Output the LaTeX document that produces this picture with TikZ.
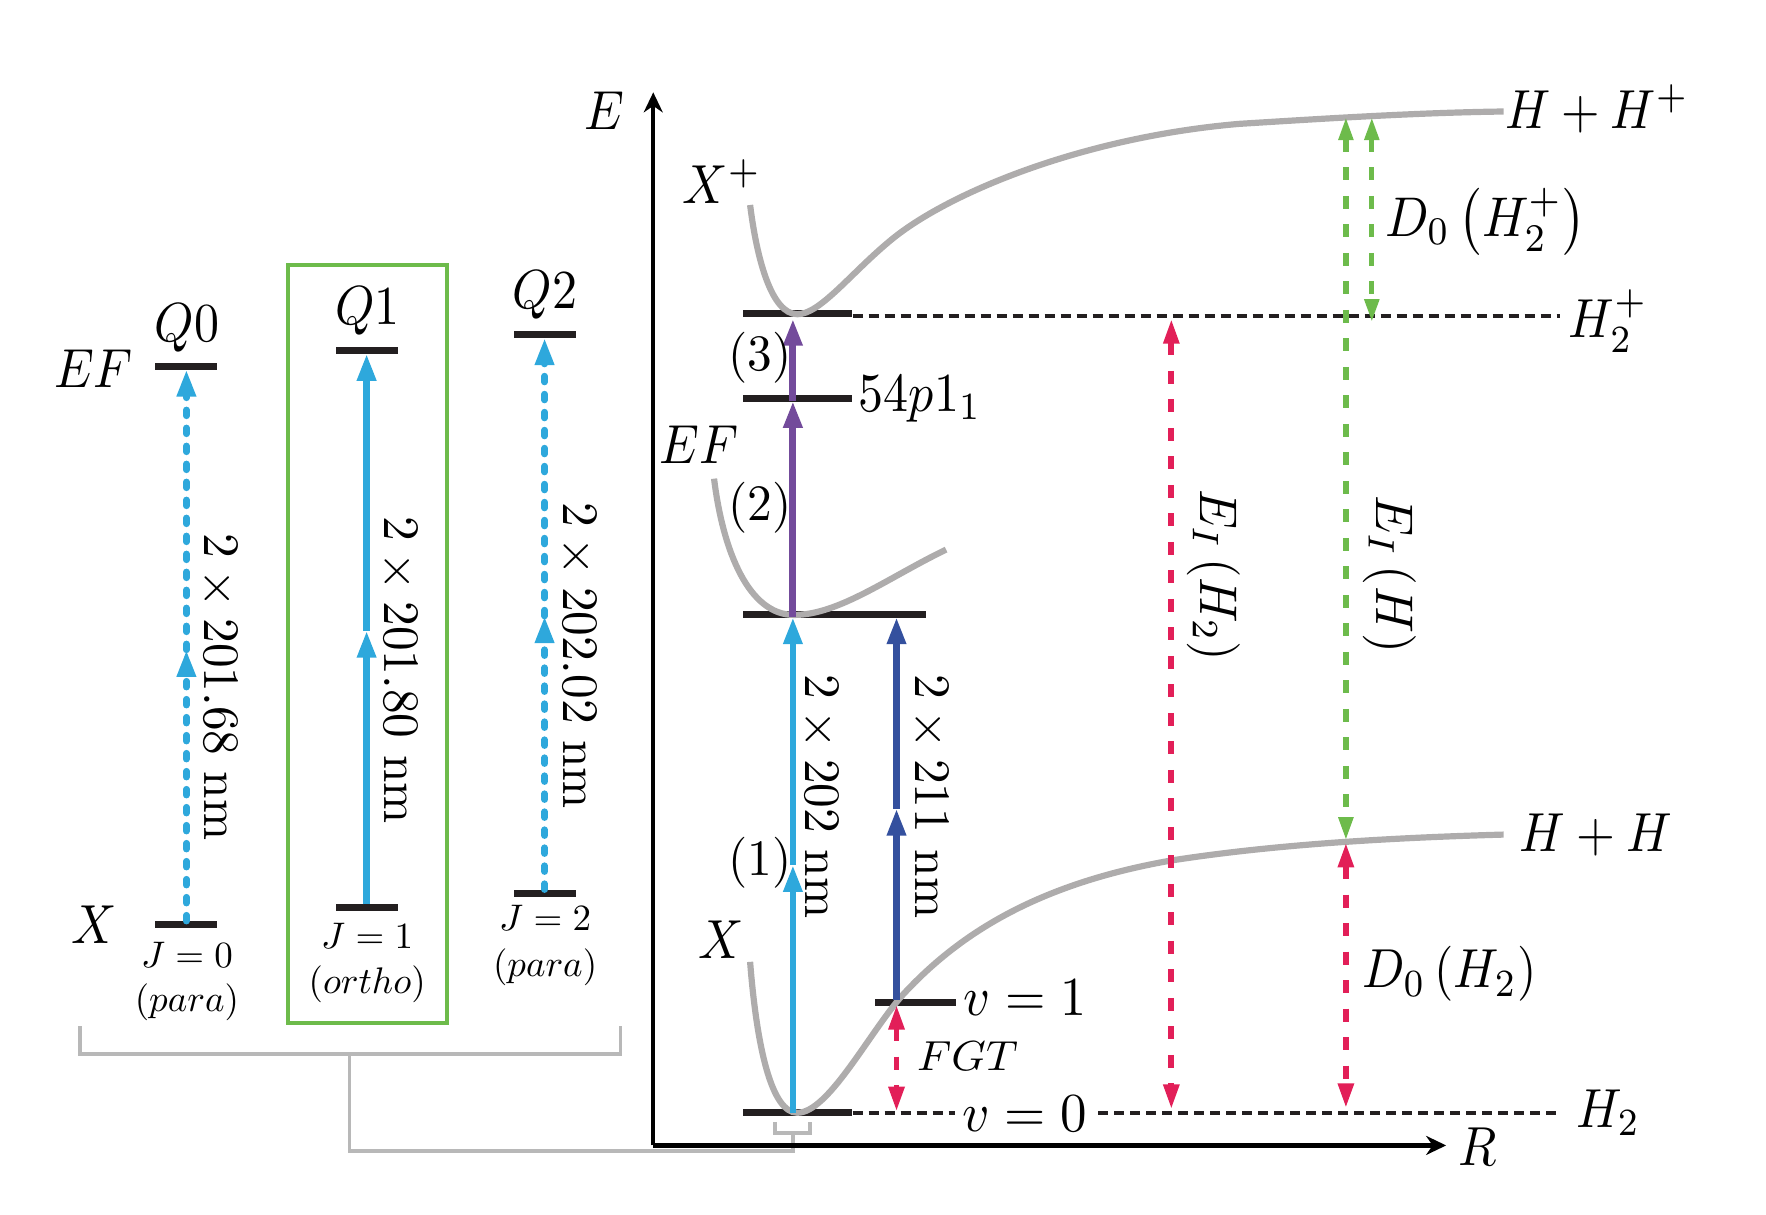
\documentclass[tikz,border=0pt]{standalone}
\usepackage{graphicx}
\usetikzlibrary{arrows.meta}
\definecolor{cblue}{HTML}{2EA8DC}
\definecolor{cnavy}{HTML}{34509E}
\definecolor{cpurple}{HTML}{734B9B}
\definecolor{cpink}{HTML}{E21F58}
\definecolor{cgreen}{HTML}{6DBB4B}
\definecolor{cgray}{HTML}{AEACAC}
\definecolor{clight}{HTML}{B8B8B8}
\definecolor{cblack}{HTML}{231F20}
\newcommand\bigt[1]{\scalebox{5.0}[5.5]{#1}}
\newcommand\smallt[1]{\scalebox{3.7}[3.7]{#1}}
\newcommand\rott[1]{\scalebox{4.93}[5.1]{#1}}
\tikzset{
  x=1.1263pt,y=-1.1263pt,
  every node/.style={inner sep=0pt,outer sep=0pt},
  lev/.style={fill=cblack,minimum height=7pt,text width=0pt,minimum width=#1},
  curve/.style={draw=cgray,line width=6.2pt},
  brk/.style={draw=clight,line width=3.5pt},
  head/.style={-{Triangle[length=27pt,width=18pt]}},
  blue solid/.style={draw=cblue,line width=6.5pt,head},
  blue dash/.style={blue solid,line cap=round,dash pattern=on 6pt off 12pt},
  navy/.style={draw=cnavy,line width=6.5pt,head},
  purp/.style={draw=cpurple,line width=7pt,head},
  pinkd/.style={draw=cpink,line width=5.8pt,dash pattern=on 13pt off 15.5pt,{Triangle[length=25pt,width=15pt]}-{Triangle[length=25pt,width=15pt]}},
  greend/.style={draw=cgreen,line width=5.2pt,dash pattern=on 13pt off 15.5pt},
  gtip/.style={{Triangle[length=23pt,width=14pt]}-{Triangle[length=23pt,width=14pt]}},
  blackd/.style={draw=cblack,line width=4pt,dash pattern=on 10pt off 6pt},
  axis/.style={draw=black,line width=4.5pt,-{Stealth[length=20pt,width=19pt]}},
}
\begin{document}
\begin{tikzpicture}
\useasboundingbox (0,0) rectangle (1568,1078);
% green frame and grey brackets
\node[draw=cgreen,line width=4pt,minimum width=159pt,minimum height=758pt] (frame) at (326.3,571.5) {};
\coordinate (b1) at (71,911); \coordinate (b2) at (71,936); \coordinate (b3) at (551,936); \coordinate (b4) at (551,911);
\coordinate (s1) at (310.5,936); \coordinate (s2) at (310.5,1022); \coordinate (s3) at (704,1022); \coordinate (s4) at (704,1006);
\coordinate (c1) at (688,996); \coordinate (c2) at (688,1006); \coordinate (c3) at (719,1006); \coordinate (c4) at (719,996);
\draw[brk] (b1) -- (b2) -- (b3) -- (b4);
\draw[brk] (s1) -- (s2) -- (s3) -- (s4);
\draw[brk] (c1) -- (c2) -- (c3) -- (c4);
% axes
\coordinate (o) at (580,1017); \coordinate (ey) at (580,82); \coordinate (rx) at (1284,1017);
\draw[axis] (o) -- (ey);
\draw[axis] (o) -- (rx);
\node (Elab) at (537,98) {\bigt{$E$}};
\node (Rlab) at (1312,1018) {\bigt{$R$}};
% left levels
\node[lev=62pt] (q0u) at (165.5,325) {};
\node[lev=62pt] (q0l) at (165.5,821) {};
\node[lev=62pt] (q1u) at (325.5,311) {};
\node[lev=62pt] (q1l) at (325.5,806) {};
\node[lev=62pt] (q2u) at (483.5,297) {};
\node[lev=62pt] (q2l) at (483.5,793) {};
\coordinate (m0) at (165.5,577); \coordinate (m1) at (325.5,560); \coordinate (m2) at (483.5,547);
\draw[blue dash] (q0l.north) -- (m0);
\draw[blue dash] (m0) -- (q0u.south);
\draw[blue solid] (q1l.north) -- (m1);
\draw[blue solid] (m1) -- (q1u.south);
\draw[blue dash] (q2l.north) -- (m2);
\draw[blue dash] (m2) -- (q2u.south);
\node (EFa) at (83,327) {\bigt{$EF$}};
\node (Xa) at (84,821) {\bigt{$X$}};
\node (Q0) at (166,291) {\bigt{$Q0$}};
\node (Q1) at (326.5,276) {\bigt{$Q1$}};
\node (Q2) at (484,262) {\bigt{$Q2$}};
\node (J0) at (166,848) {\smallt{$J=0$}};
\node (P0) at (166,890) {\smallt{$(para)$}};
\node (J1) at (326,831) {\smallt{$J=1$}};
\node (P1) at (326,874) {\smallt{$(ortho)$}};
\node (J2) at (484,815) {\smallt{$J=2$}};
\node (P2) at (484,859) {\smallt{$(para)$}};
\node[rotate=-90] (w0) at (194,610) {\rott{$2\times 201.68$ nm}};
\node[rotate=-90] (w1) at (354.5,595) {\rott{$2\times 201.80$ nm}};
\node[rotate=-90] (w2) at (513,582) {\rott{$2\times 202.02$ nm}};
% right levels
\node[lev=109pt] (xp) at (708.5,278) {};
\node[lev=109pt] (ryd) at (708.5,354) {};
\node[lev=183pt] (ef) at (741,546) {};
\node[lev=81pt] (v1) at (813,890) {};
\node[lev=109pt] (v0) at (708.5,988) {};
% potential curves
\draw[curve] (666,182) .. controls (672,230) and (685,279) .. (708,279) .. controls (728,279) and (755,243) .. (790,214) .. controls (840,172) and (960,122) .. (1100,110) .. controls (1180,105) and (1260,100) .. (1335,99);
\draw[curve] (634,425) .. controls (642,490) and (665,546) .. (705,546) .. controls (745,546) and (790,512) .. (840,488);
\draw[curve] (666,854) .. controls (672,930) and (685,988) .. (708,988) .. controls (735,988) and (770,920) .. (800,885) .. controls (850,830) and (920,785) .. (1040,764) .. controls (1130,750) and (1230,744) .. (1335,741);
% dashed levels
\coordinate (dxe) at (1385,281); \coordinate (dxs) at (757,281);
\draw[blackd] (dxs) -- (dxe);
\coordinate (d0a) at (757,988); \coordinate (d0b) at (848,988); \coordinate (d0c) at (975,988); \coordinate (d0d) at (1385,988);
\draw[blackd] (d0a) -- (d0b);
\draw[blackd] (d0c) -- (d0d);
% transitions
\coordinate (t0) at (704,988); \coordinate (t1) at (704,768); \coordinate (t2) at (704,548); \coordinate (t3) at (704,356); \coordinate (t4) at (704,283);
\draw[blue solid] (t0) -- (t1);
\draw[blue solid] (t1) -- (t2);
\draw[purp] (t2) -- (t3);
\draw[purp] (t3) -- (t4);
\coordinate (n0) at (796,888); \coordinate (n1) at (796,718); \coordinate (n2) at (796,548);
\draw[navy] (n0) -- (n1);
\draw[navy] (n1) -- (n2);
\coordinate (f0) at (796,892); \coordinate (f1) at (796,987);
\draw[pinkd] (f0) -- (f1);
\coordinate (e0) at (1040,283); \coordinate (e1) at (1040,985);
\draw[pinkd] (e0) -- (e1);
\coordinate (d0) at (1195,748); \coordinate (d1) at (1195,984);
\draw[pinkd] (d0) -- (d1);
\coordinate (g0) at (1195,104); \coordinate (g1) at (1195,746);
\draw[greend,gtip] (g0) -- (g1);
\coordinate (h0) at (1218,104); \coordinate (h1) at (1218,286);
\draw[greend,gtip] (h0) -- (h1);
% labels
\node (Xp) at (641,161) {\bigt{$X^+$}};
\node (EFb) at (620.5,395) {\bigt{$EF$}};
\node (Xb) at (640,834) {\bigt{$X$}};
\node (l3) at (675,318) {\rott{(3)}};
\node (l2) at (675,451) {\rott{(2)}};
\node (l1) at (675,766) {\rott{(1)}};
\node (ryl) at (817,354) {\scalebox{5.0}[5.5]{$54p1_1$}};
\node[rotate=-90] (w3) at (728,707) {\rott{$2\times 202$ nm}};
\node[rotate=-90] (w4) at (825.5,707) {\rott{$2\times 211$ nm}};
\node (v1l) at (910,886) {\scalebox{5.2}[5.5]{$v=1$}};
\node (v0l) at (910,989) {\scalebox{5.3}[5.5]{$v=0$}};
\node (fgt) at (859,938) {\scalebox{4.4}[4.2]{$FGT$}};
\node[rotate=-90] (EI2) at (1078,511) {\scalebox{5.0}[5.3]{$E_I\left(H_2\right)$}};
\node[rotate=-90] (EI1) at (1234,510) {\scalebox{5.15}[5.3]{$E_I\left(H\right)$}};
\node (D1) at (1319,197) {\scalebox{5.1}[5.6]{$D_0\left(H_2^+\right)$}};
\node (D2) at (1287,865) {\scalebox{4.97}[5.5]{$D_0\left(H_2\right)$}};
\node (HHp) at (1418,97) {\scalebox{4.95}[5.5]{$H+H^+$}};
\node (HH) at (1417,741) {\bigt{$H+H$}};
\node (H2p) at (1428,285) {\bigt{$H_2^+$}};
\node (H2) at (1428,988) {\bigt{$H_2$}};
\end{tikzpicture}
\end{document}
